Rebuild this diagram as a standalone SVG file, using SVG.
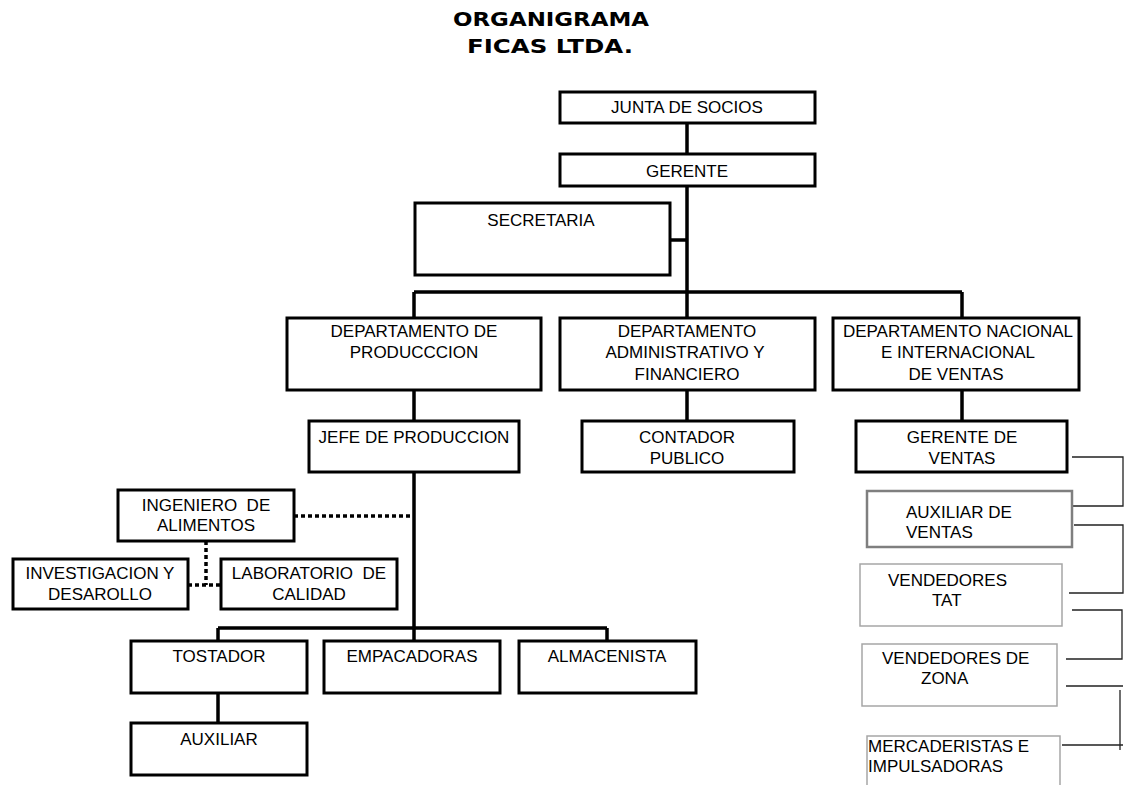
<svg xmlns="http://www.w3.org/2000/svg" width="1125" height="785" viewBox="0 0 1125 785">
<style>
.bx{fill:#fff;stroke:#000;stroke-width:3}
.g1{fill:#fff;stroke:#7f7f7f;stroke-width:2.5}
.g2{fill:#fff;stroke:#a6a6a6;stroke-width:1.5}
.t{font-family:"Liberation Sans",Arial,sans-serif;font-size:17px;fill:#000;text-anchor:middle}
.tl{font-family:"Liberation Sans",Arial,sans-serif;font-size:17px;fill:#000}
.ttl{font-family:"DejaVu Sans",Verdana,sans-serif;font-size:20px;font-weight:bold;fill:#000;text-anchor:middle}
.c{stroke:#000;stroke-width:3.5;fill:none}
.d{stroke:#000;stroke-width:3.5;fill:none;stroke-dasharray:4 3}
.th{stroke:#222;stroke-width:1.3;fill:none}
</style>
<rect width="1125" height="785" fill="#fff"/>
<g id="title">
<text class="ttl" x="551" y="26" textLength="196" lengthAdjust="spacingAndGlyphs">ORGANIGRAMA</text>
<text class="ttl" x="550" y="53" textLength="166" lengthAdjust="spacingAndGlyphs">FICAS LTDA.</text>
</g>
<g id="connectors">
<path class="c" d="M687 123V154M687 186V318M670 240H687M414 292H962M414 292V318M962 292V318M414 390V421M687 390V421M962 390V421M414 472V641M218 628H607M218 628V641M607 628V641M218 693V723"/>
<path class="d" d="M294 516H414M206 541V585M188 585H221"/>
<path class="th" d="M1072 457H1123V506H1073M1074 525H1123V593H1069M1072 610H1122V659H1066M1066 686H1123M1120 690V750M1062 745H1123"/>
</g>
<g id="junta"><rect class="bx" x="560" y="92" width="255" height="31"/><text class="t" x="687" y="113">JUNTA DE SOCIOS</text></g>
<g id="gerente"><rect class="bx" x="560" y="154" width="255" height="32"/><text class="t" x="687" y="177">GERENTE</text></g>
<g id="secretaria"><rect class="bx" x="415" y="203" width="255" height="72"/><text class="t" x="541" y="226">SECRETARIA</text></g>
<g id="dep-produccion"><rect class="bx" x="287" y="318" width="254" height="72"/><text class="t" x="414" y="337">DEPARTAMENTO DE</text><text class="t" x="414" y="358">PRODUCCCION</text></g>
<g id="dep-administrativo"><rect class="bx" x="560" y="318" width="255" height="72"/><text class="t" x="687" y="337">DEPARTAMENTO</text><text class="t" x="685" y="358">ADMINISTRATIVO Y</text><text class="t" x="687" y="380">FINANCIERO</text></g>
<g id="dep-ventas"><rect class="bx" x="833" y="318" width="246" height="72"/><text class="t" x="958" y="337">DEPARTAMENTO NACIONAL</text><text class="t" x="958" y="358">E INTERNACIONAL</text><text class="t" x="956" y="380">DE VENTAS</text></g>
<g id="jefe-produccion"><rect class="bx" x="309" y="421" width="210" height="51"/><text class="t" x="414" y="443">JEFE DE PRODUCCION</text></g>
<g id="contador"><rect class="bx" x="582" y="421" width="212" height="51"/><text class="t" x="687" y="443">CONTADOR</text><text class="t" x="687" y="464">PUBLICO</text></g>
<g id="gerente-ventas"><rect class="bx" x="856" y="421" width="211" height="51"/><text class="t" x="962" y="443">GERENTE DE</text><text class="t" x="962" y="464">VENTAS</text></g>
<g id="ingeniero"><rect class="bx" x="118" y="490" width="176" height="51"/><text class="t" x="206" y="511" xml:space="preserve">INGENIERO  DE</text><text class="t" x="206" y="531">ALIMENTOS</text></g>
<g id="investigacion"><rect class="bx" x="13" y="559" width="175" height="50"/><text class="t" x="100" y="579">INVESTIGACION Y</text><text class="t" x="100" y="600">DESAROLLO</text></g>
<g id="laboratorio"><rect class="bx" x="221" y="559" width="176" height="50"/><text class="t" x="309" y="579" xml:space="preserve">LABORATORIO  DE</text><text class="t" x="309" y="600">CALIDAD</text></g>
<g id="tostador"><rect class="bx" x="131" y="641" width="176" height="52"/><text class="t" x="219" y="662">TOSTADOR</text></g>
<g id="empacadoras"><rect class="bx" x="324" y="641" width="176" height="52"/><text class="t" x="412" y="662">EMPACADORAS</text></g>
<g id="almacenista"><rect class="bx" x="519" y="641" width="177" height="52"/><text class="t" x="607" y="662">ALMACENISTA</text></g>
<g id="auxiliar"><rect class="bx" x="131" y="723" width="176" height="52"/><text class="t" x="219" y="745">AUXILIAR</text></g>
<g id="auxiliar-ventas"><rect class="g1" x="867" y="491" width="205" height="56"/><text class="tl" x="906" y="518">AUXILIAR DE</text><text class="tl" x="906" y="538">VENTAS</text></g>
<g id="vendedores-tat"><rect class="g2" x="860" y="564" width="202" height="62"/><text class="tl" x="888" y="586">VENDEDORES</text><text class="tl" x="932" y="606">TAT</text></g>
<g id="vendedores-zona"><rect class="g2" x="862" y="644" width="195" height="62"/><text class="tl" x="882" y="664">VENDEDORES DE</text><text class="tl" x="921" y="684">ZONA</text></g>
<g id="mercaderistas"><rect class="g2" x="867" y="736" width="193" height="60"/><text class="tl" x="868" y="752">MERCADERISTAS E</text><text class="tl" x="868" y="772">IMPULSADORAS</text></g>
</svg>
